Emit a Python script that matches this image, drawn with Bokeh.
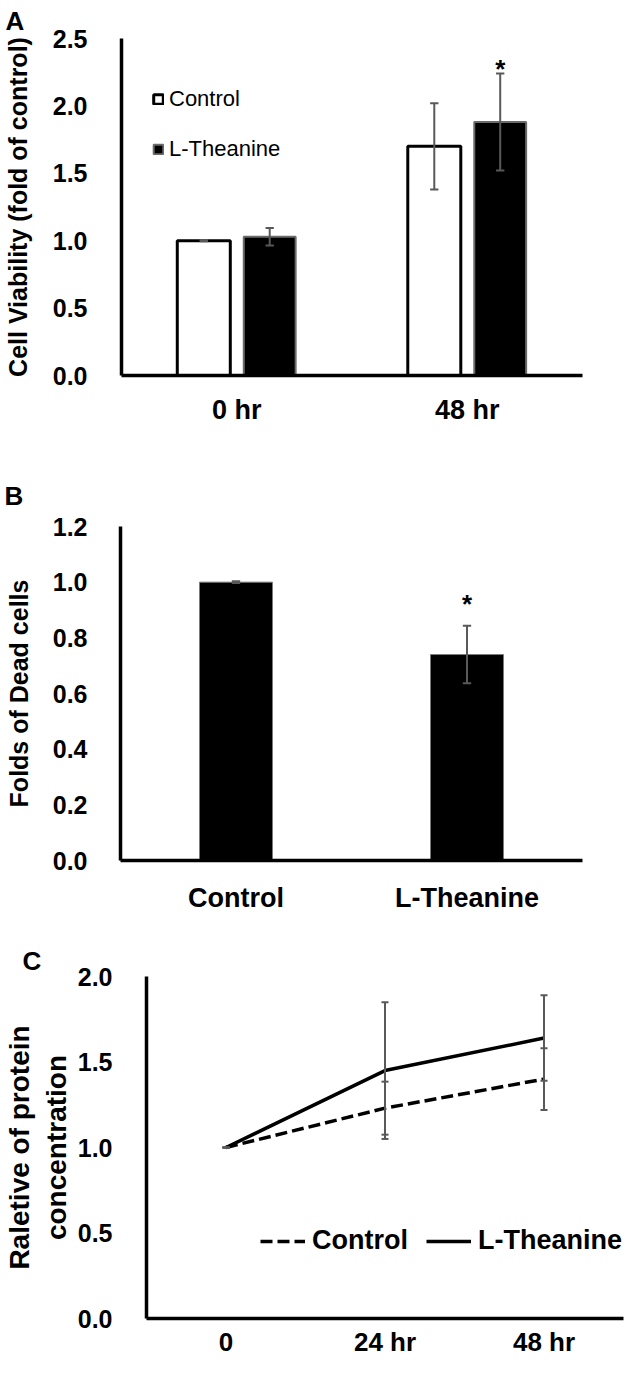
from bokeh.plotting import figure
from bokeh.models import (FactorRange, Range1d, FixedTicker, NumeralTickFormatter,
                          Legend, LegendItem, ColumnDataSource)
from bokeh.transform import dodge
from bokeh.embed import file_html
from bokeh.resources import INLINE
from bokeh.core.properties import value

FONT = "Liberation Sans"
ERR = "#595959"

# ---------------- data ----------------
# Panel A: cell viability
a_times = ["0 hr", "48 hr"]
a_control = [1.00, 1.70]
a_control_err = [0.005, 0.32]
a_theanine = [1.03, 1.88]
a_theanine_err = [0.065, 0.36]
a_signif = ["", "*"]
a_yticks = [0, 0.5, 1.0, 1.5, 2.0, 2.5]

# Panel B: dead cells
b_groups = ["Control", "L-Theanine"]
b_dead = [1.00, 0.74]
b_dead_err = [0.003, 0.103]
b_signif = ["", "*"]
b_yticks = [0, 0.2, 0.4, 0.6, 0.8, 1.0, 1.2]

# Panel C: relative protein concentration
c_times = ["0", "24 hr", "48 hr"]
c_control = [1.00, 1.23, 1.40]
c_control_err = [0.0, 0.155, 0.18]
c_theanine = [1.00, 1.45, 1.64]
c_theanine_err = [0.0, 0.40, 0.25]
c_yticks = [0, 0.5, 1.0, 1.5, 2.0]


def style(p, yticks, ylabel, ylab_size, ylab_standoff, tick_standoff, xlab_size, xlab_standoff):
    p.outline_line_color = None
    p.xgrid.visible = False
    p.ygrid.visible = False
    p.background_fill_color = "white"
    p.border_fill_color = "white"
    for ax in (p.xaxis[0], p.yaxis[0]):
        ax.axis_line_width = 3.5
        ax.axis_line_color = "black"
        ax.major_tick_line_color = None
        ax.minor_tick_line_color = None
        ax.major_tick_in = 0
        ax.major_tick_out = 0
        ax.major_label_text_font = FONT
        ax.major_label_text_font_style = "bold"
        ax.major_label_text_color = "black"
    ya = p.yaxis[0]
    ya.ticker = FixedTicker(ticks=yticks)
    ya.formatter = NumeralTickFormatter(format="0.0")
    ya.major_label_text_font_size = "25px"
    ya.major_label_standoff = tick_standoff
    ya.axis_label = ylabel
    ya.axis_label_text_font = FONT
    ya.axis_label_text_font_size = ylab_size
    ya.axis_label_text_font_style = "bold"
    ya.axis_label_text_color = "black"
    ya.axis_label_standoff = ylab_standoff
    xa = p.xaxis[0]
    xa.major_label_text_font_size = xlab_size
    xa.major_label_standoff = xlab_standoff


def panel_title(p, letter, standoff, offset):
    p.title.text = letter
    p.title.text_font = FONT
    p.title.text_font_size = "26px"
    p.title.text_font_style = "bold"
    p.title.text_color = "black"
    p.title.align = "left"
    p.title.standoff = standoff
    p.title.offset = offset


# ---------------- Panel A ----------------
OFF = 0.143
CAP = 0.018
src_a = ColumnDataSource(dict(
    time=a_times, control=a_control, theanine=a_theanine, sig=a_signif,
    c_lo=[v - e for v, e in zip(a_control, a_control_err)],
    c_hi=[v + e for v, e in zip(a_control, a_control_err)],
    t_lo=[v - e for v, e in zip(a_theanine, a_theanine_err)],
    t_hi=[v + e for v, e in zip(a_theanine, a_theanine_err)],
))
pa = figure(width=624, height=462, x_range=FactorRange(*a_times), y_range=Range1d(0, 2.5),
            output_backend="svg", toolbar_location=None,
            min_border_left=120, min_border_right=42, min_border_top=35, min_border_bottom=87)
xr = pa.x_range
rc = pa.vbar(x=dodge("time", -OFF, range=xr), top="control", width=0.23, source=src_a,
             fill_color="white", line_color="black", line_width=3)
rt = pa.vbar(x=dodge("time", OFF, range=xr), top="theanine", width=0.225, source=src_a,
             fill_color="black", line_color="#6b6b6b", line_width=2)
for off, lo, hi in ((-OFF, "c_lo", "c_hi"), (OFF, "t_lo", "t_hi")):
    pa.segment(x0=dodge("time", off, range=xr), y0=lo, x1=dodge("time", off, range=xr), y1=hi,
               source=src_a, line_color=ERR, line_width=2)
    for yy in (lo, hi):
        pa.segment(x0=dodge("time", off - CAP, range=xr), y0=yy,
                   x1=dodge("time", off + CAP, range=xr), y1=yy,
                   source=src_a, line_color=ERR, line_width=2)
pa.text(x=dodge("time", OFF, range=xr), y="t_hi", text="sig", source=src_a,
        text_font=value(FONT), text_font_size="26px", text_font_style="bold",
        text_align="center", text_baseline="alphabetic", y_offset=-5, text_color="black")
leg_a = Legend(items=[LegendItem(label="Control", renderers=[rc]),
                      LegendItem(label="L-Theanine", renderers=[rt])],
               location=(31, 213), orientation="vertical",
               glyph_width=12, glyph_height=12, label_standoff=5, spacing=24,
               padding=0, margin=0, border_line_color=None, background_fill_alpha=0,
               label_text_font=FONT, label_text_font_size="22px", label_text_color="black")
pa.add_layout(leg_a)
style(pa, a_yticks, "Cell Viability (fold of control)", "25px", 18, 34, "27px", 19)
panel_title(pa, "A", 6, -116)

# ---------------- Panel B ----------------
src_b = ColumnDataSource(dict(
    grp=b_groups, dead=b_dead, sig=b_signif,
    lo=[v - e for v, e in zip(b_dead, b_dead_err)],
    hi=[v + e for v, e in zip(b_dead, b_dead_err)],
))
pb = figure(width=624, height=480, x_range=FactorRange(*b_groups), y_range=Range1d(0, 1.2),
            output_backend="svg", toolbar_location=None,
            min_border_left=120, min_border_right=42, min_border_top=61, min_border_bottom=82)
xrb = pb.x_range
pb.vbar(x="grp", top="dead", width=0.316, source=src_b,
        fill_color="black", line_color="#7a7a7a", line_width=1)
pb.segment(x0="grp", y0="lo", x1="grp", y1="hi", source=src_b, line_color=ERR, line_width=2)
for yy in ("lo", "hi"):
    pb.segment(x0=dodge("grp", -CAP, range=xrb), y0=yy, x1=dodge("grp", CAP, range=xrb), y1=yy,
               source=src_b, line_color=ERR, line_width=2)
pb.text(x="grp", y="hi", text="sig", source=src_b,
        text_font=value(FONT), text_font_size="26px", text_font_style="bold",
        text_align="center", text_baseline="alphabetic", y_offset=-22, text_color="black")
style(pb, b_yticks, "Folds of Dead cells", "25px", 17, 33, "27px", 22)
panel_title(pb, "B", 32, -116)

# ---------------- Panel C ----------------
src_c = ColumnDataSource(dict(
    time=c_times, control=c_control, theanine=c_theanine,
    c_lo=[v - e for v, e in zip(c_control, c_control_err)],
    c_hi=[v + e for v, e in zip(c_control, c_control_err)],
    t_lo=[v - e for v, e in zip(c_theanine, c_theanine_err)],
    t_hi=[v + e for v, e in zip(c_theanine, c_theanine_err)],
))
pc = figure(width=624, height=417, x_range=FactorRange(*c_times), y_range=Range1d(0, 2.0),
            output_backend="svg", toolbar_location=None,
            min_border_left=138, min_border_right=1, min_border_top=31, min_border_bottom=38)
xrc = pc.x_range
lc = pc.line(x="time", y="control", source=src_c, line_color="black", line_width=3.5,
             line_dash="12 5")
lt = pc.line(x="time", y="theanine", source=src_c, line_color="black", line_width=3.5)
CAPC = 0.022
for lo, hi in (("c_lo", "c_hi"), ("t_lo", "t_hi")):
    pc.segment(x0="time", y0=lo, x1="time", y1=hi, source=src_c, line_color=ERR, line_width=2)
    for yy in (lo, hi):
        pc.segment(x0=dodge("time", -CAPC, range=xrc), y0=yy,
                   x1=dodge("time", CAPC, range=xrc), y1=yy,
                   source=src_c, line_color=ERR, line_width=2)
leg_c = Legend(items=[LegendItem(label="Control", renderers=[lc]),
                      LegendItem(label="L-Theanine", renderers=[lt])],
               location=(114, 62), orientation="horizontal",
               glyph_width=45, glyph_height=20, label_standoff=7, spacing=18,
               padding=0, margin=0, border_line_color=None, background_fill_alpha=0,
               label_text_font=FONT, label_text_font_size="27px",
               label_text_font_style="bold", label_text_color="black")
pc.add_layout(leg_c)
style(pc, c_yticks, "Raletive of protein\nconcentration", "28px", 3, 34, "26px", 8)
panel_title(pc, "C", 2, -124)

# separate roots so that the three frames are not aligned to each other
open("out.html", "w").write(file_html([pa, pb, pc], INLINE))
